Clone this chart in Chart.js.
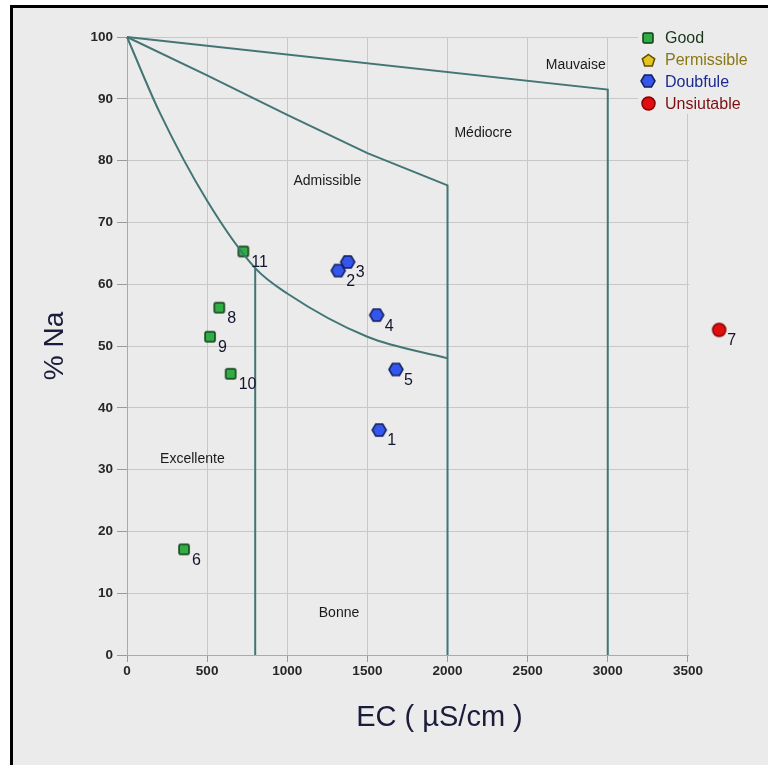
<!DOCTYPE html>
<html>
<head>
<meta charset="utf-8">
<script src="https://cdn.jsdelivr.net/npm/chart.js@4.4.1/dist/chart.umd.min.js"></script>
<style>
  html, body { margin: 0; padding: 0; background: #ffffff; }
  body { position: relative; width: 768px; height: 765px; overflow: hidden; }
  #frame { position: absolute; left: 10px; top: 5px; width: 800px; height: 800px;
           border-top: 3px solid #000; border-left: 3px solid #000; background: #ebebeb; }
  #wrap { position: absolute; left: 0; top: 0; width: 768px; height: 765px; }
</style>
</head>
<body>
<div id="frame"></div>
<div id="wrap"><canvas id="chart" width="768" height="765"></canvas></div>
<script>
// ---- samples: electrical conductivity (µS/cm) and sodium percentage ----
const goodIds = ['6', '8', '9', '10', '11'];
const goodEC  = [356, 576, 518, 647, 726];
const goodNa  = [17.1, 56.2, 51.5, 45.5, 65.3];

const doubtIds = ['1', '2', '3', '4', '5'];
const doubtEC  = [1574, 1318, 1377, 1558, 1678];
const doubtNa  = [36.4, 62.2, 63.6, 55.0, 46.2];

const unsuitIds = ['7'];
const unsuitEC  = [3695];
const unsuitNa  = [52.6];

// ---- Wilcox class boundaries ----
const curveEC = [0, 200, 500, 800, 1000, 1500, 2000];
const curveNa = [100, 88, 73.5, 62.6, 58.5, 51.5, 48];
const split800EC = [800, 800];
const split800Na = [62.6, 0];
const midEC = [0, 500, 1000, 1500, 2000, 2000];
const midNa = [100, 93.8, 87.4, 81.2, 76, 0];
const topEC = [0, 3000, 3000];
const topNa = [100, 91.5, 0];

// ---- class names and where they sit (EC, %Na) ----
const zoneNames = ['Mauvaise', 'Médiocre', 'Admissible', 'Excellente', 'Bonne'];
const zoneEC    = [2800, 2223, 1250, 408, 1323];
const zoneNa    = [95.5, 84.4, 76.6, 31.7, 6.7];

// ---- axis ticks ----
const xTickValues = [0, 500, 1000, 1500, 2000, 2500, 3000, 3500];
const yTickValues = [0, 10, 20, 30, 40, 50, 60, 70, 80, 90, 100];

// ---- legend ----
const legendNames = ['Good', 'Permissible', 'Doubfule', 'Unsiutable'];

const FONT = "'Liberation Sans', Arial, Helvetica, sans-serif";
const LINE = '#437575';
const GRID = '#c8c8c8';

function pts(xs, ys) { return xs.map((x, i) => ({ x: x, y: ys[i] })); }

function marker(shape, fill, stroke, w, h) {
  const pad = 2;
  const c = document.createElement('canvas');
  c.width = w + pad * 2; c.height = h + pad * 2;
  const g = c.getContext('2d');
  const cx = c.width / 2, cy = c.height / 2, rx = w / 2, ry = h / 2;
  g.beginPath();
  if (shape === 'square') {
    const r = 1.5, x0 = cx - rx, y0 = cy - ry;
    g.moveTo(x0 + r, y0);
    g.arcTo(x0 + w, y0, x0 + w, y0 + h, r);
    g.arcTo(x0 + w, y0 + h, x0, y0 + h, r);
    g.arcTo(x0, y0 + h, x0, y0, r);
    g.arcTo(x0, y0, x0 + w, y0, r);
  } else if (shape === 'hex') {
    g.moveTo(cx + rx, cy);
    g.lineTo(cx + rx / 2, cy - ry);
    g.lineTo(cx - rx / 2, cy - ry);
    g.lineTo(cx - rx, cy);
    g.lineTo(cx - rx / 2, cy + ry);
    g.lineTo(cx + rx / 2, cy + ry);
  } else if (shape === 'pent') {
    for (let i = 0; i < 5; i++) {
      const a = -Math.PI / 2 + i * 2 * Math.PI / 5;
      const px = cx + rx * Math.cos(a), py = cy + ry * 1.05 * Math.sin(a) + 0.8;
      if (i === 0) g.moveTo(px, py); else g.lineTo(px, py);
    }
  } else {
    g.ellipse(cx, cy, rx, ry, 0, 0, Math.PI * 2);
  }
  g.closePath();
  g.fillStyle = fill; g.fill();
  g.lineWidth = 1.5; g.strokeStyle = stroke; g.stroke();
  return c;
}

const greenSq = marker('square', '#31ad45', '#0e3d14', 10, 10);
const yellowPent = marker('pent', '#e6c41e', '#5e4e00', 13, 12);
const blueHex = marker('hex', '#3556ec', '#101f5c', 14, 12);
const redDot = marker('circle', '#e00f0f', '#8a0000', 13, 13);
const legendMarkers = [greenSq, yellowPent, blueHex, redDot];
const legendColors = ['#17351a', '#8a7714', '#1b2a92', '#7c0e10'];

function boundary(xs, ys, extra) {
  return Object.assign({
    data: pts(xs, ys), showLine: true, pointRadius: 0, borderColor: LINE,
    borderWidth: 2, fill: false, clip: false, tension: 0
  }, extra || {});
}

function samples(xs, ys, ids, style) {
  return { data: pts(xs, ys), ids: ids, pointStyle: style, pointRadius: 7,
           showLine: false, clip: false };
}

// clears the grid past the last labelled tick and behind the legend
const tidyPlugin = {
  id: 'tidy',
  beforeDatasetsDraw(chart) {
    const { ctx, chartArea, scales } = chart;
    const last = xTickValues[xTickValues.length - 1];
    const xEnd = Math.round(scales.x.getPixelForValue(last)) + 1;
    ctx.clearRect(xEnd, chartArea.top - 3, chart.width - xEnd, chartArea.bottom - chartArea.top + 5);
    ctx.clearRect(638, 12, 130, 102);
  }
};

const labelPlugin = {
  id: 'labels',
  afterDatasetsDraw(chart) {
    const { ctx, scales } = chart;
    ctx.save();
    // class names
    ctx.font = '14px ' + FONT;
    ctx.fillStyle = '#1a1a1a';
    ctx.textAlign = 'center';
    ctx.textBaseline = 'middle';
    zoneNames.forEach((n, i) => {
      ctx.fillText(n, scales.x.getPixelForValue(zoneEC[i]), scales.y.getPixelForValue(zoneNa[i]));
    });
    // sample numbers
    ctx.font = '16px ' + FONT;
    ctx.fillStyle = '#15152e';
    ctx.textAlign = 'left';
    chart.data.datasets.forEach((ds, di) => {
      if (!ds.ids) return;
      chart.getDatasetMeta(di).data.forEach((el, i) => {
        ctx.fillText(ds.ids[i], el.x + 8, el.y + 11);
      });
    });
    ctx.restore();
  }
};

const legendPlugin = {
  id: 'cornerLegend',
  afterDraw(chart) {
    const ctx = chart.ctx;
    ctx.save();
    ctx.font = '16px ' + FONT;
    ctx.textBaseline = 'middle';
    ctx.textAlign = 'left';
    legendNames.forEach((n, i) => {
      const y = 38 + i * 21.7;
      const m = legendMarkers[i];
      ctx.drawImage(m, Math.round(648 - m.width / 2), Math.round(y - m.height / 2));
      ctx.fillStyle = legendColors[i];
      ctx.fillText(n, 665, y + 1);
    });
    ctx.restore();
  }
};

Chart.defaults.font.family = FONT;

new Chart(document.getElementById('chart'), {
  type: 'scatter',
  data: {
    datasets: [
      boundary(curveEC, curveNa, { cubicInterpolationMode: 'monotone' }),
      boundary(split800EC, split800Na),
      boundary(midEC, midNa),
      boundary(topEC, topNa),
      samples(goodEC, goodNa, goodIds, greenSq),
      samples(doubtEC, doubtNa, doubtIds, blueHex),
      samples(unsuitEC, unsuitNa, unsuitIds, redDot)
    ]
  },
  options: {
    responsive: false,
    animation: false,
    devicePixelRatio: 1,
    events: [],
    layout: { padding: { top: 37, right: 16, bottom: 0, left: 0 } },
    plugins: { legend: { display: false }, tooltip: { enabled: false } },
    scales: {
      x: {
        type: 'linear', min: 0, max: 3900,
        afterBuildTicks(s) { s.ticks = xTickValues.map(v => ({ value: v })); },
        afterFit(s) { s.height = 110; },
        ticks: { padding: 1, color: '#262626', autoSkip: false,
                 font: { size: 13.5, weight: 'bold' }, maxRotation: 0,
                 callback: v => String(v) },
        grid: { color: GRID, tickColor: '#9a9a9a', tickLength: 7, lineWidth: 1 },
        border: { color: '#8fb6b6', width: 1 },
        title: { display: true, text: 'EC ( µS/cm )', color: '#1b1b3b',
                 font: { size: 29 }, padding: { top: 0, bottom: 29.6 } }
      },
      y: {
        type: 'linear', min: 0, max: 100,
        afterBuildTicks(s) { s.ticks = yTickValues.map(v => ({ value: v })); },
        afterFit(s) { s.width = 127; },
        ticks: { padding: 4, color: '#262626', autoSkip: false,
                 font: { size: 13.5, weight: 'bold' }, callback: v => String(v) },
        grid: { color: GRID, tickColor: '#9a9a9a', tickLength: 10, lineWidth: 1 },
        border: { color: '#8fb6b6', width: 1 },
        title: { display: true, text: '% Na', color: '#1b1b3b',
                 font: { size: 28 }, padding: { top: 38, bottom: 0 } }
      }
    }
  },
  plugins: [tidyPlugin, labelPlugin, legendPlugin]
});
</script>
</body>
</html>
